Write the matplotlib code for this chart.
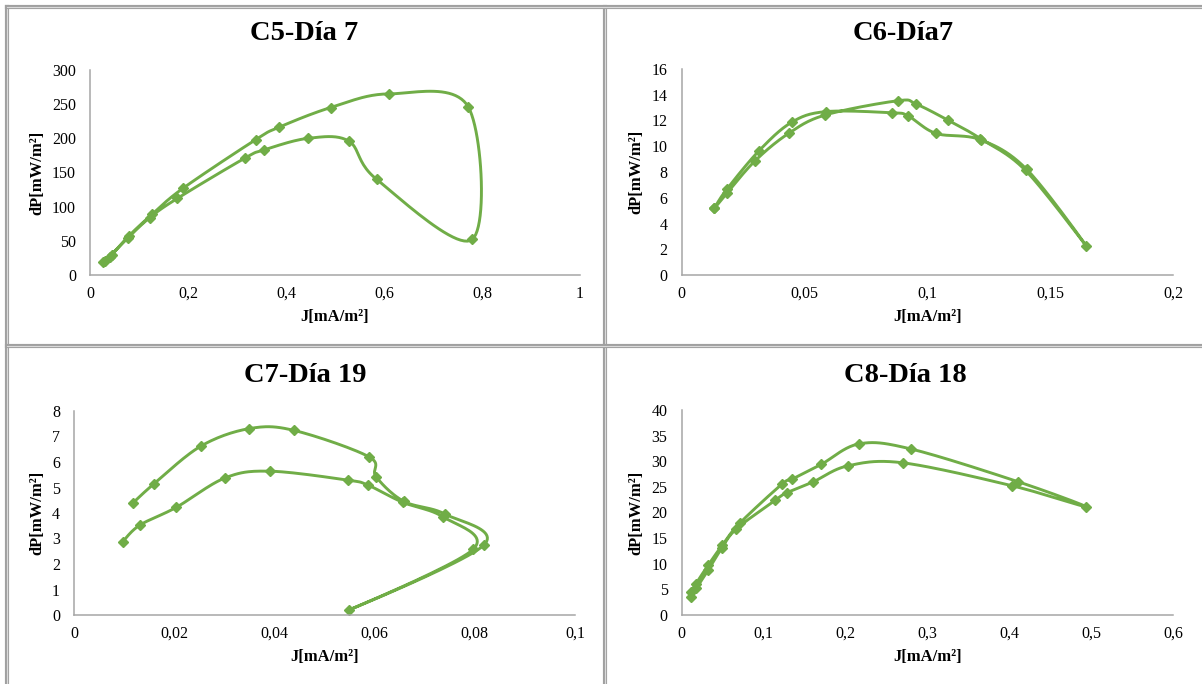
import numpy as np
import matplotlib
matplotlib.use("Agg")
import matplotlib.pyplot as plt
from matplotlib.lines import Line2D
from matplotlib.ticker import FuncFormatter, MultipleLocator

plt.rcParams['font.family'] = ['Liberation Serif', 'DejaVu Serif']

GREEN = '#70AD47'
AXIS_GRAY = '#A6A6A6'

# C5 - day 7 : sweep out along the upper branch, back along the lower one
c5_j = [0.030, 0.045, 0.079, 0.127, 0.190, 0.338, 0.385, 0.491, 0.610, 0.772,
        0.780, 0.585, 0.528, 0.445, 0.355, 0.316, 0.178, 0.122, 0.077, 0.040, 0.027]
c5_dp = [21, 30, 57, 89, 127, 198, 216, 245, 265, 246,
         52, 140, 196, 200, 183, 171, 112, 84, 54, 27, 19]

# C6 - day 7
c6_j = [0.0134, 0.0184, 0.0300, 0.0436, 0.0585, 0.0882, 0.0954, 0.1083, 0.1216, 0.1400, 0.1646,
        0.1405, 0.1218, 0.1035, 0.0923, 0.0855, 0.0588, 0.0448, 0.0316, 0.0184, 0.0134]
c6_dp = [5.18, 6.34, 8.88, 11.0, 12.43, 13.54, 13.28, 12.04, 10.6, 8.12, 2.28,
         8.2, 10.5, 11.0, 12.35, 12.6, 12.69, 11.86, 9.66, 6.65, 5.2]

# C7 - day 19
c7_j = [0.0118, 0.0160, 0.0253, 0.0350, 0.0439, 0.0589, 0.0603, 0.0658, 0.0740, 0.0818, 0.0549,
        0.0797, 0.0736, 0.0656, 0.0587, 0.0546, 0.0391, 0.0302, 0.0204, 0.0131, 0.0097]
c7_dp = [4.40, 5.15, 6.62, 7.31, 7.24, 6.20, 5.42, 4.46, 3.96, 2.74, 0.20,
         2.58, 3.85, 4.42, 5.09, 5.29, 5.64, 5.38, 4.22, 3.52, 2.87]

# C8 - day 18
c8_j = [0.0117, 0.0173, 0.0327, 0.050, 0.071, 0.1224, 0.135, 0.1706, 0.217, 0.280, 0.411, 0.494,
        0.404, 0.270, 0.203, 0.161, 0.129, 0.1145, 0.067, 0.049, 0.0327, 0.018, 0.0117]
c8_dp = [4.4, 6.0, 9.76, 13.66, 17.9, 25.5, 26.5, 29.4, 33.4, 32.4, 26.0, 21.1,
         25.2, 29.7, 29.1, 26.0, 23.9, 22.4, 16.8, 13.0, 8.8, 5.2, 3.6]

W, H = 1202, 684


def px_rect(left, top, right, bottom):
    return [left / W, 1 - bottom / H, (right - left) / W, (bottom - top) / H]


def smooth_path(ax, x, y, n=24):
    # Catmull-Rom style bezier through the points, computed in screen space
    pts = ax.transData.transform(np.column_stack([x, y]))
    ext = np.vstack([pts[0], pts, pts[-1]])
    t = np.linspace(0, 1, n)[:, None]
    out = []
    for i in range(1, len(ext) - 2):
        p0, p1, p2, p3 = ext[i - 1], ext[i], ext[i + 1], ext[i + 2]
        c1 = p1 + (p2 - p0) / 6.0
        c2 = p2 - (p3 - p1) / 6.0
        seg = ((1 - t) ** 3) * p1 + 3 * ((1 - t) ** 2) * t * c1 + 3 * (1 - t) * t ** 2 * c2 + t ** 3 * p2
        out.append(seg if i == 1 else seg[1:])
    out = np.vstack(out)
    return ax.transData.inverted().transform(out)


def comma_fmt(v, pos):
    s = ('%.3f' % v).rstrip('0').rstrip('.')
    return s.replace('.', ',')


fig = plt.figure(figsize=(W / 100, H / 100), dpi=100)

panels = [
    (c5_j, c5_dp, 'C5-Día 7', px_rect(90, 70, 580, 275), (1.0, 0.2), (300, 50), (304, 34)),
    (c6_j, c6_dp, 'C6-Día7', px_rect(681.5, 69, 1173, 275), (0.2, 0.05), (16, 2), (903, 34)),
    (c7_j, c7_dp, 'C7-Día 19', px_rect(74, 411, 575, 615), (0.1, 0.02), (8, 1), (305, 376)),
    (c8_j, c8_dp, 'C8-Día 18', px_rect(681.5, 410, 1173, 615), (0.6, 0.1), (40, 5), (905, 376)),
]

for j, dp, title, rect, (xmax, xstep), (ymax, ystep), (tx, ty) in panels:
    ax = fig.add_axes(rect)
    ax.set_xlim(0, xmax)
    ax.set_ylim(0, ymax)
    ax.xaxis.set_major_locator(MultipleLocator(xstep))
    ax.yaxis.set_major_locator(MultipleLocator(ystep))
    ax.xaxis.set_major_formatter(FuncFormatter(comma_fmt))
    ax.yaxis.set_major_formatter(FuncFormatter(comma_fmt))
    for side in ('top', 'right'):
        ax.spines[side].set_visible(False)
    for side in ('left', 'bottom'):
        ax.spines[side].set_color(AXIS_GRAY)
        ax.spines[side].set_linewidth(1.1)
    ax.tick_params(length=0, labelsize=11.5, pad=10, colors='black')
    ax.tick_params(axis='x', pad=8)

    curve = smooth_path(ax, j, dp)
    ax.plot(curve[:, 0], curve[:, 1], color=GREEN, lw=2.1, solid_capstyle='round', clip_on=False)
    ax.plot(j, dp, linestyle='none', marker='D', ms=5.3, color=GREEN, clip_on=False)

    ax.set_xlabel('J[mA/m²]', fontsize=12, fontweight='bold', labelpad=5)
    ax.set_ylabel('dP[mW/m²]', fontsize=12, fontweight='bold', labelpad=5)
    fig.text(tx / W, 1 - ty / H, title, fontsize=20.5, fontweight='bold', ha='center', va='center')

# cell borders around the four charts
for xs, ys in [((7, 7), (7, H)), ((605, 605), (7, H)), ((7, W), (7, 7)), ((7, W), (345.5, 345.5))]:
    fx = [v / W for v in xs]
    fy = [1 - v / H for v in ys]
    fig.add_artist(Line2D(fx, fy, color='#A0A0A0', lw=3.0))
    fig.add_artist(Line2D(fx, fy, color='#DADADA', lw=0.8))

fig.savefig('out.png', dpi=100, facecolor='white')
